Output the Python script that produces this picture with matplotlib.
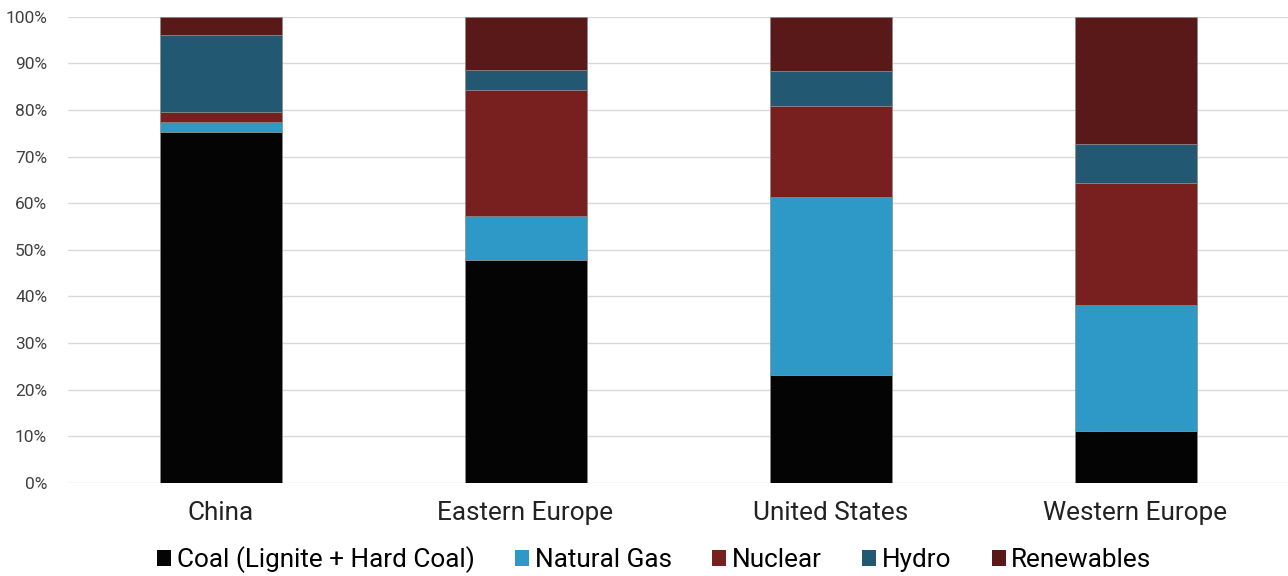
import matplotlib.pyplot as plt
from matplotlib.patches import Patch
import numpy as np

plt.rcParams['font.family'] = ['Roboto', 'DejaVu Sans']

regions = ['China', 'Eastern Europe', 'United States', 'Western Europe']
sources = ['Coal (Lignite + Hard Coal)', 'Natural Gas', 'Nuclear', 'Hydro', 'Renewables']
coal = [75.2, 47.8, 23.2, 11.1]
gas = [2.2, 9.4, 38.1, 27.1]
nuclear = [2.2, 27.0, 19.5, 26.1]
hydro = [16.5, 4.4, 7.5, 8.4]
renewables = [3.9, 11.4, 11.7, 27.3]
colors = ['#040404', '#2e98c7', '#782020', '#235873', '#591919']

fig = plt.figure(figsize=(12.88, 5.76), dpi=100)
ax = fig.add_axes([68 / 1288, 93 / 576, 1 - 68 / 1288, (483 - 16.7) / 576])

x = np.arange(len(regions))
bottom = np.zeros(len(regions))
for vals, c in zip([coal, gas, nuclear, hydro, renewables], colors):
    ax.bar(x, vals, 0.4, bottom=bottom, color=c, edgecolor='#8a8a8a', linewidth=0.5, zorder=3)
    bottom += np.array(vals)

ax.set_xlim(-0.5, 3.5)
ax.set_ylim(0, 100)
ax.set_yticks(range(0, 101, 10))
ax.set_yticklabels([f'{v}%' for v in range(0, 101, 10)], fontsize=12.5, color='#404040')
ax.set_xticks(x)
ax.set_xticklabels(regions, fontsize=18.8, color='#222222')
ax.tick_params(axis='both', length=0)
ax.tick_params(axis='x', pad=13)
ax.tick_params(axis='y', pad=15)
ax.grid(axis='y', color='#d9d9d9', linewidth=1, zorder=0)
for s in ax.spines.values():
    s.set_visible(False)

handles = [Patch(facecolor=c, edgecolor='none') for c in colors]
fig.legend(handles, sources, loc='center', bbox_to_anchor=(0.508, 0.028), ncol=5,
           frameon=False, fontsize=18.8, handlelength=0.55, handleheight=0.55,
           handletextpad=0.2, columnspacing=1.55)

fig.savefig('out.png', dpi=100)
